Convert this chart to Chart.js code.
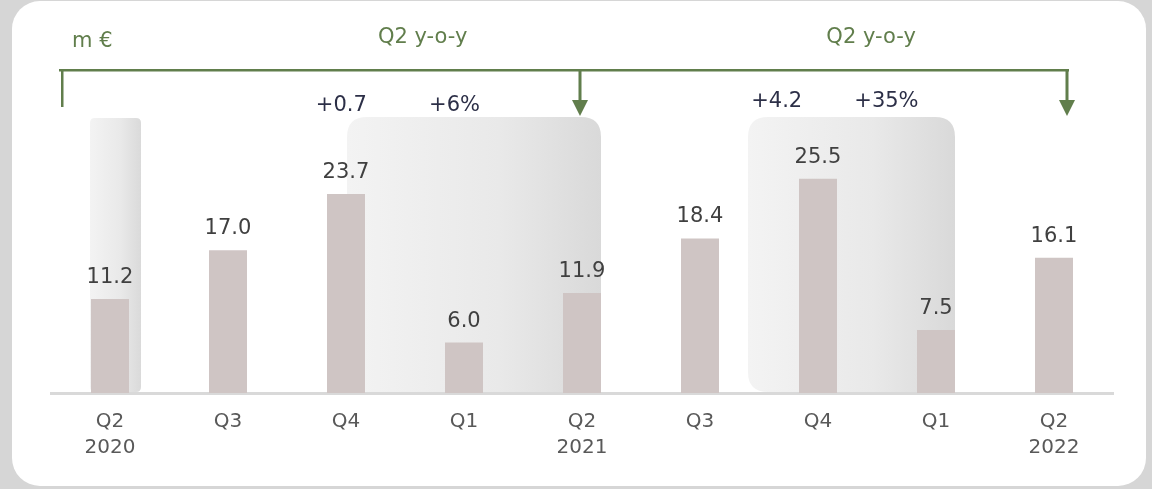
<!DOCTYPE html>
<html>
<head>
<meta charset="utf-8">
<script src="https://cdn.jsdelivr.net/npm/chart.js@4.4.0/dist/chart.umd.min.js"></script>
<style>
  body { margin: 0; background: #d6d6d6; width: 1152px; height: 489px; overflow: hidden; position: relative; }
  #card { position: absolute; left: 12px; top: 1px; width: 1134px; height: 485px; background: #fff; border-radius: 28px; }
  #myChart { position: absolute; left: 0; top: 0; }
</style>
</head>
<body>
<div id="card"></div>
<canvas id="myChart" width="1152" height="489"></canvas>
<script>
var quarters = [["Q2", "2020"], "Q3", "Q4", "Q1", ["Q2", "2021"], "Q3", "Q4", "Q1", ["Q2", "2022"]];
var revenue = [11.2, 17.0, 23.7, 6.0, 11.9, 18.4, 25.5, 7.5, 16.1];
var unitLabel = "m €";
var compareLabels = ["Q2 y-o-y", "Q2 y-o-y"];
var changeAbs = ["+0.7", "+4.2"];
var changePct = ["+6%", "+35%"];

var green = "#617e4c";
var font = "'DejaVu Sans', Verdana, sans-serif";

function roundBox(ctx, l, t, r, b, rad) {
  ctx.beginPath();
  ctx.moveTo(l + rad, t);
  ctx.lineTo(r - rad, t);
  ctx.quadraticCurveTo(r, t, r, t + rad);
  ctx.lineTo(r, b - rad);
  ctx.quadraticCurveTo(r, b, r - rad, b);
  ctx.lineTo(l + rad, b);
  ctx.quadraticCurveTo(l, b, l, b - rad);
  ctx.lineTo(l, t + rad);
  ctx.quadraticCurveTo(l, t, l + rad, t);
  ctx.closePath();
}

function shade(ctx, l, t, r, b, rad, dark) {
  var g = ctx.createLinearGradient(l, 0, r, 0);
  g.addColorStop(0, "#f3f3f3");
  g.addColorStop(0.6, "#e9e9e9");
  g.addColorStop(1, dark);
  ctx.fillStyle = g;
  roundBox(ctx, l, t, r, b, rad);
  ctx.fill();
}

function arrow(ctx, x, y0) {
  ctx.fillRect(x - 1.5, y0, 3, 32);
  ctx.beginPath();
  ctx.moveTo(x - 8, y0 + 30);
  ctx.lineTo(x + 8, y0 + 30);
  ctx.lineTo(x, y0 + 46);
  ctx.closePath();
  ctx.fill();
}

var extras = {
  id: "extras",
  beforeDatasetsDraw: function(chart) {
    var ctx = chart.ctx, x = chart.scales.x, area = chart.chartArea;
    var top = area.top - 24, bottom = area.bottom - 1;
    ctx.save();
    shade(ctx, x.getPixelForValue(0) - 20, top + 1, x.getPixelForValue(0) + 31, bottom, 5, "#dadada");
    shade(ctx, x.getPixelForValue(2) + 1, top, x.getPixelForValue(4) + 19, bottom, 20, "#d9d9d9");
    shade(ctx, x.getPixelForValue(6) - 70, top, x.getPixelForValue(7) + 19, bottom, 20, "#d9d9d9");
    ctx.restore();
  },
  afterDatasetsDraw: function(chart) {
    var ctx = chart.ctx, x = chart.scales.x, area = chart.chartArea;
    ctx.save();
    // value labels
    ctx.font = "21px " + font;
    ctx.fillStyle = "#404040";
    ctx.textAlign = "center";
    ctx.textBaseline = "alphabetic";
    chart.getDatasetMeta(0).data.forEach(function(bar, i) {
      ctx.fillText(revenue[i].toFixed(1), bar.x, bar.y - 16);
    });

    // bracket with arrows
    var lineY = 70;
    ctx.fillStyle = green;
    ctx.fillRect(area.left + 8, lineY - 1, x.getPixelForValue(8) + 15 - area.left - 8, 2.5);
    ctx.fillRect(area.left + 10, lineY - 1, 2.5, 38);
    arrow(ctx, x.getPixelForValue(4) - 2, lineY);
    arrow(ctx, x.getPixelForValue(8) + 13, lineY);

    // header texts
    ctx.font = "21px " + font;
    ctx.textAlign = "left";
    ctx.fillText(unitLabel, area.left + 21, 46.5);
    ctx.textAlign = "center";
    ctx.fillText(compareLabels[0], x.getPixelForValue(2.65), 43);
    ctx.fillText(compareLabels[1], x.getPixelForValue(6.45), 43);

    // changes
    ctx.fillStyle = "#2c2f47";
    ctx.fillText(changeAbs[0], x.getPixelForValue(1.96), 110.5);
    ctx.fillText(changePct[0], x.getPixelForValue(2.92), 110.5);
    ctx.fillText(changeAbs[1], x.getPixelForValue(5.65), 107);
    ctx.fillText(changePct[1], x.getPixelForValue(6.58), 107);
    ctx.restore();
  }
};

var chart = new Chart(document.getElementById("myChart").getContext("2d"), {
  type: "bar",
  data: {
    labels: quarters,
    datasets: [
      {
        label: "Revenue",
        data: revenue,
        backgroundColor: "#cfc5c4",
        barPercentage: 0.322,
        categoryPercentage: 1
      }
    ]
  },
  options: {
    responsive: false,
    animation: false,
    layout: { padding: { left: 51, right: 39, top: 141, bottom: 0 } },
    plugins: { legend: { display: false }, tooltip: { enabled: false } },
    scales: {
      x: {
        grid: { display: false, drawTicks: false },
        border: { display: true, color: "#d9d9d9", width: 3 },
        ticks: {
          color: "#595959",
          padding: 16,
          maxRotation: 0,
          autoSkip: false,
          font: { family: font, size: 20, lineHeight: 1.3 }
        },
        afterFit: function(s) { s.height = 96; }
      },
      y: { display: false, min: 0, max: 30 }
    }
  },
  plugins: [extras]
});
</script>
</body>
</html>
